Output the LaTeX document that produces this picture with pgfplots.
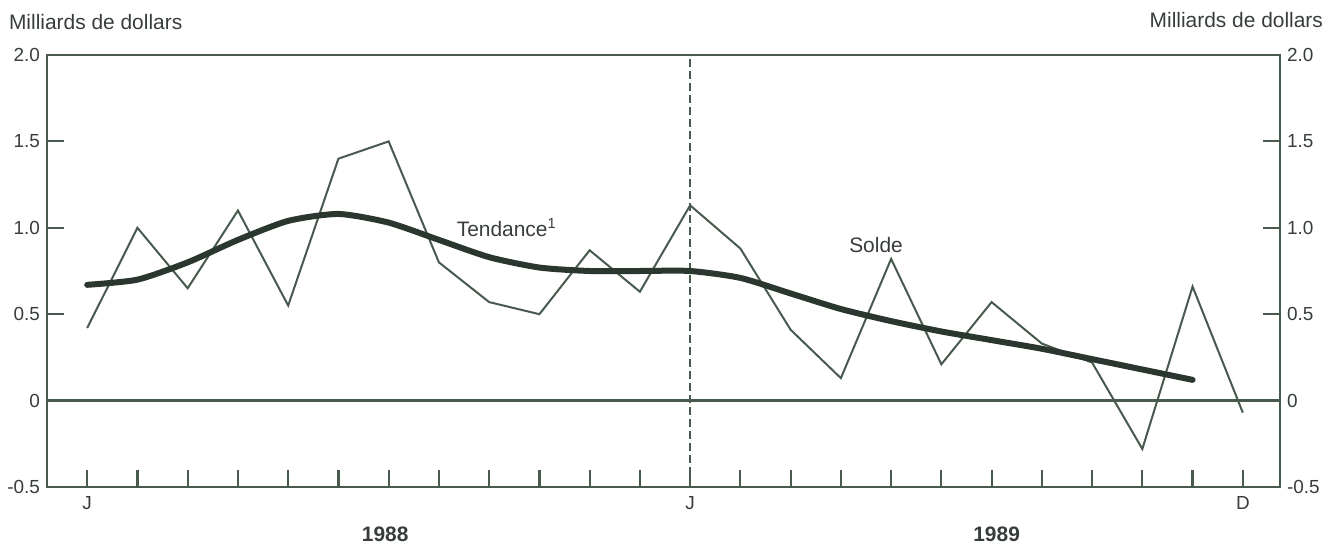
\documentclass[border=0pt]{standalone}
\usepackage{fontspec}
\setmainfont{Liberation Sans}
\usepackage{pgfplots}
\pgfplotsset{compat=1.18}
\definecolor{axc}{RGB}{72,90,78}
\definecolor{trc}{RGB}{42,55,47}
\definecolor{txc}{RGB}{55,62,57}
\pgfplotsset{
  common/.style={
    at={(0,0)}, anchor=south west,
    scale only axis, width=616.5bp, height=216bp,
    xmin=-0.8, xmax=23.74, ymin=-0.5, ymax=2.0,
    axis line style={axc, line width=1.3bp},
    tick align=inside,
    major tick length=8.5bp,
    tick style={axc, line width=1.1bp},
    ytick={-0.5,0,0.5,1,1.5,2},
    yticklabels={-0.5,0,0.5,1.0,1.5,2.0},
    tick label style={font=\fontsize{9.5}{11}\selectfont, text=txc},
    clip=false,
  }
}
\begin{document}
\begin{tikzpicture}
\useasboundingbox (-23.5bp,-29.5bp) rectangle (645.5bp,243.5bp);
\begin{axis}[common,
  xtick={0,...,23},
  xticklabels={J,,,,,,,,,,,,J,,,,,,,,,,,D},
  xtick pos=bottom,
  ytick pos=left,
  xticklabel style={yshift=-1bp},
]
% zero line and dashed separator
\draw[axc, line width=1.2bp] (axis cs:-0.8,0) -- (axis cs:23.74,0);
\draw[axc, line width=1bp, dash pattern=on 4bp off 2bp] (axis cs:12,-0.5) -- (axis cs:12,2.0);
% Solde (monthly)
\addplot[axc, line width=1bp, line join=miter] coordinates {
(0,0.42) (1,1.00) (2,0.65) (3,1.10) (4,0.55) (5,1.40) (6,1.50) (7,0.80)
(8,0.57) (9,0.50) (10,0.87) (11,0.63) (12,1.13) (13,0.88) (14,0.41) (15,0.13)
(16,0.82) (17,0.21) (18,0.57) (19,0.33) (20,0.22) (21,-0.28) (22,0.66) (23,-0.07)
};
% Tendance
\addplot[trc, line width=3bp, line join=round, line cap=round, smooth, tension=0.4] coordinates {
(0,0.67) (1,0.70) (2,0.80) (3,0.93) (4,1.04) (5,1.08) (6,1.03) (7,0.93)
(8,0.83) (9,0.77) (10,0.75) (11,0.75) (12,0.75) (13,0.71) (14,0.62) (15,0.53)
(16,0.46) (17,0.40) (18,0.35) (19,0.30) (20,0.24) (21,0.18) (22,0.12)
};
\node[text=txc, font=\fontsize{10.5}{12}\selectfont] at (axis cs:8.35,1.0) {Tendance\textsuperscript{1}};
\node[text=txc, font=\fontsize{10.5}{12}\selectfont] at (axis cs:15.7,0.90) {Solde};
\node[text=txc, font=\fontsize{10.5}{12}\selectfont\bfseries] at (axis cs:5.93,-0.5) [yshift=-23.5bp] {1988};
\node[text=txc, font=\fontsize{10.5}{12}\selectfont\bfseries] at (axis cs:18.1,-0.5) [yshift=-23.5bp] {1989};
\end{axis}
\begin{axis}[common,
  hide x axis,
  ytick pos=right,
  yticklabel pos=right,
]
\end{axis}
\node[anchor=west, text=txc, font=\fontsize{10.5}{12}\selectfont] at (-22.5bp,232.5bp) {Milliards de dollars};
\node[anchor=east, text=txc, font=\fontsize{10.5}{12}\selectfont] at (641.5bp,233.5bp) {Milliards de dollars};
\end{tikzpicture}
\end{document}
